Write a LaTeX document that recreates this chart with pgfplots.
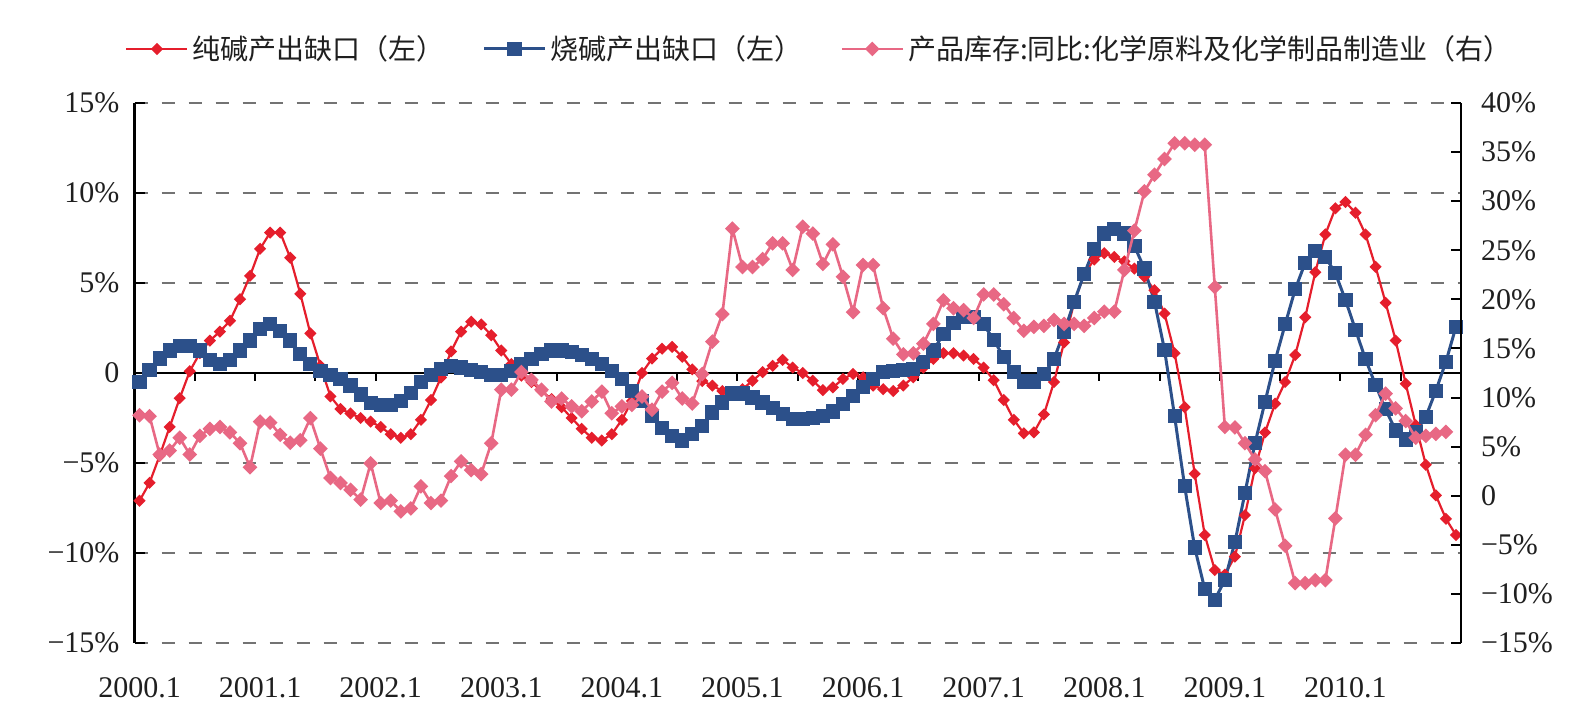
\documentclass[border=0pt]{standalone}
\usepackage{pgfplots}
\usepackage{pgfplotstable}
\pgfplotsset{compat=1.18}
\usepackage{fontspec}
\setmainfont{Liberation Serif}
\newfontfamily\cjk{Noto Sans CJK SC}
\definecolor{cred}{RGB}{229,30,44}
\definecolor{cblue}{RGB}{44,80,138}
\definecolor{cpink}{RGB}{232,104,132}
\definecolor{cgrid}{RGB}{115,115,115}

\pgfplotstableread{
x y
0 -7.1
1 -6.1
2 -4.6
3 -3.0
4 -1.4
5 0.1
6 1.1
7 1.8
8 2.3
9 2.9
10 4.1
11 5.4
12 6.9
13 7.8
14 7.8
15 6.4
16 4.4
17 2.2
18 0.4
19 -1.3
20 -2.0
21 -2.25
22 -2.5
23 -2.7
24 -3.0
25 -3.4
26 -3.6
27 -3.4
28 -2.6
29 -1.5
30 -0.25
31 1.2
32 2.3
33 2.85
34 2.7
35 2.1
36 1.25
37 0.5
38 -0.15
39 -0.5
40 -1.0
41 -1.45
42 -1.9
43 -2.5
44 -3.1
45 -3.6
46 -3.75
47 -3.4
48 -2.6
49 -1.55
50 0.0
51 0.8
52 1.35
53 1.45
54 0.9
55 0.2
56 -0.45
57 -0.7
58 -1.0
59 -1.15
60 -0.9
61 -0.43
62 0.05
63 0.4
64 0.73
65 0.3
66 0.0
67 -0.43
68 -0.95
69 -0.8
70 -0.33
71 -0.05
72 -0.24
73 -0.7
74 -0.9
75 -1.0
76 -0.7
77 -0.24
78 0.3
79 0.78
80 1.1
81 1.1
82 0.97
83 0.78
84 0.3
85 -0.4
86 -1.5
87 -2.6
88 -3.35
89 -3.3
90 -2.3
91 -0.5
92 1.7
93 3.9
94 5.5
95 6.3
96 6.65
97 6.45
98 6.2
99 5.8
100 5.35
101 4.6
102 3.3
103 1.1
104 -1.9
105 -5.6
106 -9.0
107 -10.95
108 -11.2
109 -10.2
110 -7.9
111 -5.3
112 -3.3
113 -1.7
114 -0.5
115 1.0
116 3.1
117 5.6
118 7.7
119 9.15
120 9.5
121 8.9
122 7.7
123 5.9
124 3.9
125 1.8
126 -0.6
127 -2.9
128 -5.1
129 -6.8
130 -8.1
131 -9.0
}\reddata

\pgfplotstableread{
x y
0 -0.5
1 0.15
2 0.8
3 1.25
4 1.5
5 1.5
6 1.25
7 0.7
8 0.5
9 0.7
10 1.25
11 1.8
12 2.45
13 2.7
14 2.35
15 1.8
16 1.05
17 0.5
18 0.13
19 -0.1
20 -0.35
21 -0.7
22 -1.2
23 -1.65
24 -1.8
25 -1.8
26 -1.55
27 -1.1
28 -0.5
29 -0.1
30 0.2
31 0.4
32 0.3
33 0.15
34 0.04
35 -0.09
36 -0.09
37 0.13
38 0.5
39 0.78
40 1.06
41 1.25
42 1.25
43 1.15
44 1.02
45 0.78
46 0.5
47 0.13
48 -0.34
49 -1.0
50 -1.55
51 -2.4
52 -3.05
53 -3.5
54 -3.75
55 -3.4
56 -2.95
57 -2.2
58 -1.64
59 -1.14
60 -1.14
61 -1.36
62 -1.64
63 -1.96
64 -2.3
65 -2.57
66 -2.57
67 -2.51
68 -2.38
69 -2.14
70 -1.73
71 -1.27
72 -0.8
73 -0.34
74 0.04
75 0.13
76 0.17
77 0.22
78 0.6
79 1.25
80 2.18
81 2.77
82 3.1
83 3.1
84 2.7
85 1.84
86 0.88
87 0.04
88 -0.47
89 -0.47
90 -0.06
91 0.78
92 2.27
93 3.95
94 5.5
95 6.9
96 7.75
97 8.0
98 7.75
99 7.05
100 5.8
101 3.96
102 1.28
103 -2.4
104 -6.3
105 -9.7
106 -12.0
107 -12.6
108 -11.5
109 -9.4
110 -6.67
111 -3.9
112 -1.6
113 0.68
114 2.7
115 4.65
116 6.13
117 6.78
118 6.46
119 5.54
120 4.06
121 2.4
122 0.76
123 -0.67
124 -2.02
125 -3.2
126 -3.7
127 -3.3
128 -2.43
129 -0.98
130 0.63
131 2.57
}\bluedata

\pgfplotstableread{
x y
0 8.2
1 8.1
2 4.2
3 4.6
4 5.9
5 4.2
6 6.1
7 6.8
8 7.0
9 6.45
10 5.35
11 2.9
12 7.55
13 7.45
14 6.2
15 5.4
16 5.65
17 7.9
18 4.8
19 1.8
20 1.3
21 0.6
22 -0.4
23 3.3
24 -0.75
25 -0.5
26 -1.6
27 -1.3
28 0.95
29 -0.75
30 -0.5
31 2.0
32 3.5
33 2.6
34 2.2
35 5.35
36 10.8
37 10.8
38 12.6
39 11.8
40 10.8
41 9.6
42 9.9
43 9.1
44 8.6
45 9.6
46 10.6
47 8.4
48 9.1
49 9.25
50 10.1
51 8.75
52 10.6
53 11.5
54 9.9
55 9.4
56 12.4
57 15.7
58 18.5
59 27.2
60 23.3
61 23.3
62 24.1
63 25.7
64 25.7
65 23.0
66 27.4
67 26.7
68 23.6
69 25.6
70 22.3
71 18.7
72 23.5
73 23.5
74 19.1
75 16.0
76 14.4
77 14.5
78 15.5
79 17.5
80 19.9
81 19.1
82 18.9
83 18.1
84 20.5
85 20.5
86 19.5
87 18.1
88 16.8
89 17.2
90 17.3
91 17.9
92 17.5
93 17.5
94 17.3
95 18.1
96 18.75
97 18.75
98 23.0
99 27.0
100 31.0
101 32.7
102 34.3
103 35.9
104 35.9
105 35.75
106 35.75
107 21.25
108 7.0
109 6.95
110 5.35
111 3.7
112 2.5
113 -1.4
114 -5.1
115 -8.9
116 -8.9
117 -8.6
118 -8.6
119 -2.3
120 4.17
121 4.17
122 6.2
123 8.2
124 10.4
125 8.9
126 7.6
127 5.9
128 6.1
129 6.3
130 6.5
}\pinkdata

\pgfplotsset{
  redline/.style={color=cred, line width=1.1pt, mark=square*, mark size=1.6pt, mark options={rotate=45, solid, fill=cred}},
  blueline/.style={color=cblue, line width=1.5pt, mark=square*, mark size=2.8pt, mark options={solid, fill=cblue}},
  pinkline/.style={color=cpink, line width=1.3pt, mark=square*, mark size=1.95pt, mark options={rotate=45, solid, fill=cpink}},
  common/.style={
    scale only axis, width=663.25pt, height=270pt,
    at={(67.25pt,37pt)}, anchor=south west,
    xmin=-0.5, xmax=131.5,
    tick align=inside, major tick length=5pt,
    every tick/.style={black, line width=1pt},
    ticklabel style={font=\fontsize{15}{17}\selectfont, text=black!88},
    axis line style={black, line width=1.3pt},
    legend image code/.code={\draw[mark repeat=2,mark phase=2,##1] plot coordinates {(0pt,0pt) (15.25pt,0pt) (30.5pt,0pt)};},
  },
}

\begin{document}
\begin{tikzpicture}
\path[use as bounding box] (0,0) rectangle (793pt,358.5pt);
\begin{axis}[common,
  axis x line*=bottom, axis y line*=left,
  x axis line style={draw=none},
  ymin=-15, ymax=15,
  ytick={-15,-10,-5,0,5,10,15},
  yticklabels={−15\%,−10\%,−5\%,0,5\%,10\%,15\%},
  yticklabel style={xshift=-4pt},
  xtick={0,12,...,120},
  xticklabels={2000.1,2001.1,2002.1,2003.1,2004.1,2005.1,2006.1,2007.1,2008.1,2009.1,2010.1},
  xtick style={draw=none},
  xticklabel style={anchor=center, yshift=-22.5pt},
  ymajorgrids,
  grid style={cgrid, line width=1pt, dash pattern=on 6.5pt off 7pt},
]
\draw[black, line width=1.3pt] (axis cs:-0.5,0) -- (axis cs:131.5,0);
\pgfplotsinvokeforeach{5.5,11.5,...,131.5}{\draw[black, line width=1pt] (axis cs:#1,0) -- ++(0pt,-4pt);}
\addplot[redline] table[x=x,y=y] {\reddata};
\addplot[blueline] table[x=x,y=y] {\bluedata};
\end{axis}
\begin{axis}[common,
  axis x line=none, axis y line*=right,
  ymin=-15, ymax=40,
  ytick={-15,-10,...,40},
  yticklabels={−15\%,−10\%,−5\%,0,5\%,10\%,15\%,20\%,25\%,30\%,35\%,40\%},
  yticklabel style={xshift=6.5pt},
  legend columns=3,
  legend style={at={(-0.0072,1.1000)}, anchor=west, draw=none, fill=none, inner sep=0pt,
    font=\cjk\fontsize{14}{16}\selectfont, text=black!88,
    /tikz/every even column/.append style={column sep=17pt}},
]
\addlegendimage{redline}
\addlegendentry{纯碱产出缺口（左）}
\addlegendimage{blueline}
\addlegendentry{烧碱产出缺口（左）}
\addplot[pinkline] table[x=x,y=y] {\pinkdata};
\addlegendentry{产品库存:同比:化学原料及化学制品制造业（右）}
\end{axis}
\end{tikzpicture}
\end{document}
